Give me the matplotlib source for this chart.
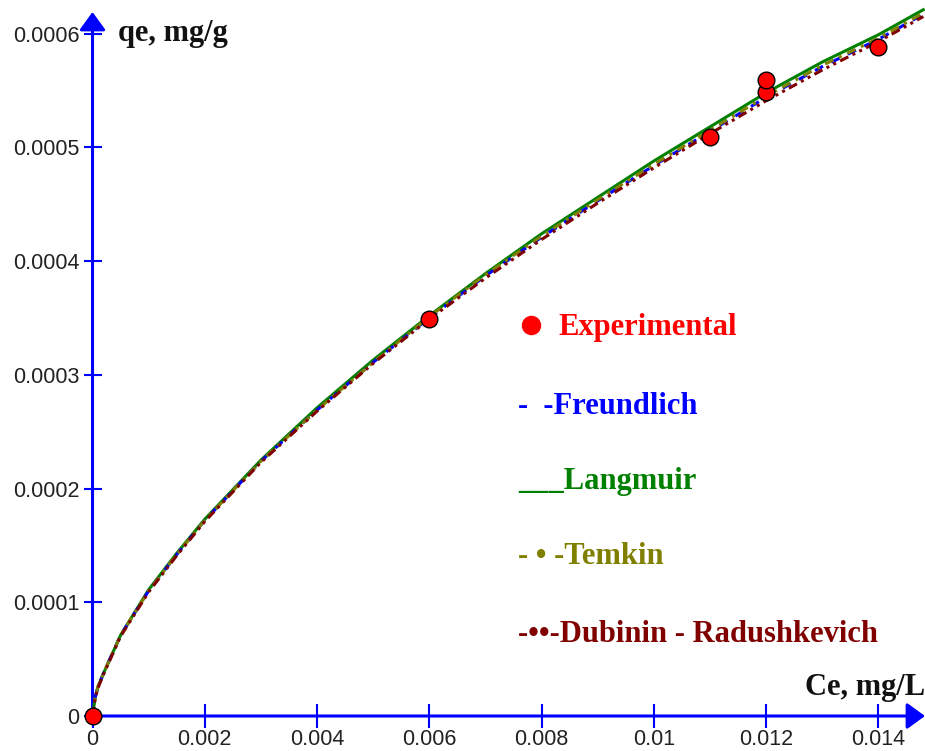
import matplotlib
matplotlib.use("Agg")
import matplotlib.pyplot as plt

# ---- data ----
ce_exp = [0.0, 0.006, 0.011, 0.012, 0.012, 0.014]
qe_exp = [0.0, 0.000349, 0.000509, 0.000549, 0.000559, 0.000588]

ce_fit = [0.0, 0.00005, 0.0001, 0.0002, 0.0005, 0.001, 0.0015, 0.002, 0.003, 0.004,
          0.005, 0.006, 0.007, 0.008, 0.009, 0.010, 0.011, 0.012, 0.013, 0.014, 0.0148]
qe_freundlich = [0.0, 0.000017, 0.000026, 0.000038, 0.000071, 0.000110, 0.000142, 0.000172,
                 0.000224, 0.000269, 0.000311, 0.000350, 0.000387, 0.000421, 0.000453,
                 0.000484, 0.000514, 0.000544, 0.000571, 0.000595, 0.000617]
qe_langmuir = [0.0, 0.000017, 0.000026, 0.000038, 0.000071, 0.000111, 0.000143, 0.000173,
               0.000225, 0.000271, 0.000313, 0.000352, 0.000389, 0.000424, 0.000456,
               0.000488, 0.000518, 0.000548, 0.000575, 0.000599, 0.000621]
qe_temkin = [0.0, 0.000017, 0.000026, 0.000038, 0.000071, 0.000110, 0.000142, 0.000172,
             0.000224, 0.000269, 0.000311, 0.000351, 0.000388, 0.000422, 0.000454,
             0.000485, 0.000515, 0.000545, 0.000572, 0.000596, 0.000618]
qe_dr = [0.0, 0.000016, 0.000025, 0.000037, 0.000070, 0.000109, 0.000141, 0.000171,
         0.000223, 0.000268, 0.000310, 0.000349, 0.000385, 0.000419, 0.000451,
         0.000482, 0.000512, 0.000541, 0.000568, 0.000593, 0.000615]

x_ticks = [0, 0.002, 0.004, 0.006, 0.008, 0.01, 0.012, 0.014]
x_labels = ["0", "0.002", "0.004", "0.006", "0.008", "0.01", "0.012", "0.014"]
y_ticks = [0, 0.0001, 0.0002, 0.0003, 0.0004, 0.0005, 0.0006]
y_labels = ["0", "0.0001", "0.0002", "0.0003", "0.0004", "0.0005", "0.0006"]

legend_entries = [
    ("Experimental", "#ff0000"),
    ("-  -Freundlich", "#0000ff"),
    ("___Langmuir", "#008000"),
    ("- \u2022 -Temkin", "#808000"),
    ("-\u2022\u2022-Dubinin - Radushkevich", "#800000"),
]

W, H = 925, 751
fig = plt.figure(figsize=(W / 100, H / 100), dpi=100)
ax = fig.add_axes([92.5 / W, (H - 716) / H, (W - 92.5) / W, (716 - 12) / H])
ax.set_xlim(0, 0.01483)
ax.set_ylim(0, 0.000619)

lw = 2.2
ax.plot(ce_fit, qe_langmuir, color="#008000", lw=lw, ls="-", clip_on=False, zorder=3)
ax.plot(ce_fit, qe_freundlich, color="#0000ff", lw=lw, ls=(0, (3, 3)), clip_on=False, zorder=4)
ax.plot(ce_fit, qe_temkin, color="#808000", lw=lw, ls=(0, (3, 2, 1, 2)), clip_on=False, zorder=5)
ax.plot(ce_fit, qe_dr, color="#800000", lw=lw, ls=(0, (3, 1.5, 1, 1.5, 1, 1.5)), clip_on=False, zorder=6)
ax.plot(ce_exp, qe_exp, ls="none", marker="o", ms=12, mfc="#ff0000", mec="black",
        mew=1.0, clip_on=False, zorder=8)

for s in ax.spines.values():
    s.set_visible(False)

# axis lines with arrows
ax.annotate("", xy=(0, 1.0), xytext=(0, 0), xycoords="axes fraction",
            arrowprops=dict(arrowstyle="-|>,head_length=0.55,head_width=0.4",
                            color="#0000ff", lw=2.2, mutation_scale=20,
                            shrinkA=0, shrinkB=0), zorder=2)
ax.annotate("", xy=(1.0, 0), xytext=(0, 0), xycoords="axes fraction",
            arrowprops=dict(arrowstyle="-|>,head_length=0.55,head_width=0.4",
                            color="#0000ff", lw=2.2, mutation_scale=20,
                            shrinkA=0, shrinkB=0), zorder=2)

ax.set_xticks(x_ticks)
ax.set_xticklabels(x_labels)
ax.set_yticks(y_ticks)
ax.set_yticklabels(y_labels)
ax.tick_params(axis="x", direction="inout", length=17, width=1.5, color="#0000ff",
               pad=1, labelsize=15.5, labelcolor="#222222")
ax.tick_params(axis="y", direction="inout", length=13, width=1.5, color="#0000ff",
               pad=3, labelsize=15.5, labelcolor="#222222")
for lab in ax.get_xticklabels() + ax.get_yticklabels():
    lab.set_family("Liberation Sans")

serif = ["Liberation Serif", "DejaVu Serif"]
fig.text(118 / W, (H - 33) / H, "qe, mg/g", family=serif, weight="bold", fontsize=22,
         ha="left", va="center", color="#111111")
fig.text(925 / W, (H - 688) / H, "Ce, mg/L", family=serif, weight="bold", fontsize=22,
         ha="right", va="center", color="#111111")

# legend (as in the original, drawn as coloured text)
leg_y = [327, 407, 482, 557, 634]
fig.lines.append(plt.Line2D([531 / W], [(H - 325) / H], transform=fig.transFigure,
                            marker="o", ms=13, mfc="#ff0000", mec="#ff0000", ls="none"))
for i, ((txt, col), yy) in enumerate(zip(legend_entries, leg_y)):
    x0 = 558 if i == 0 else 518
    fig.text(x0 / W, (H - yy) / H, txt, family=serif, weight="bold", fontsize=22,
             ha="left", va="center", color=col)

fig.savefig("out.png", dpi=100)
